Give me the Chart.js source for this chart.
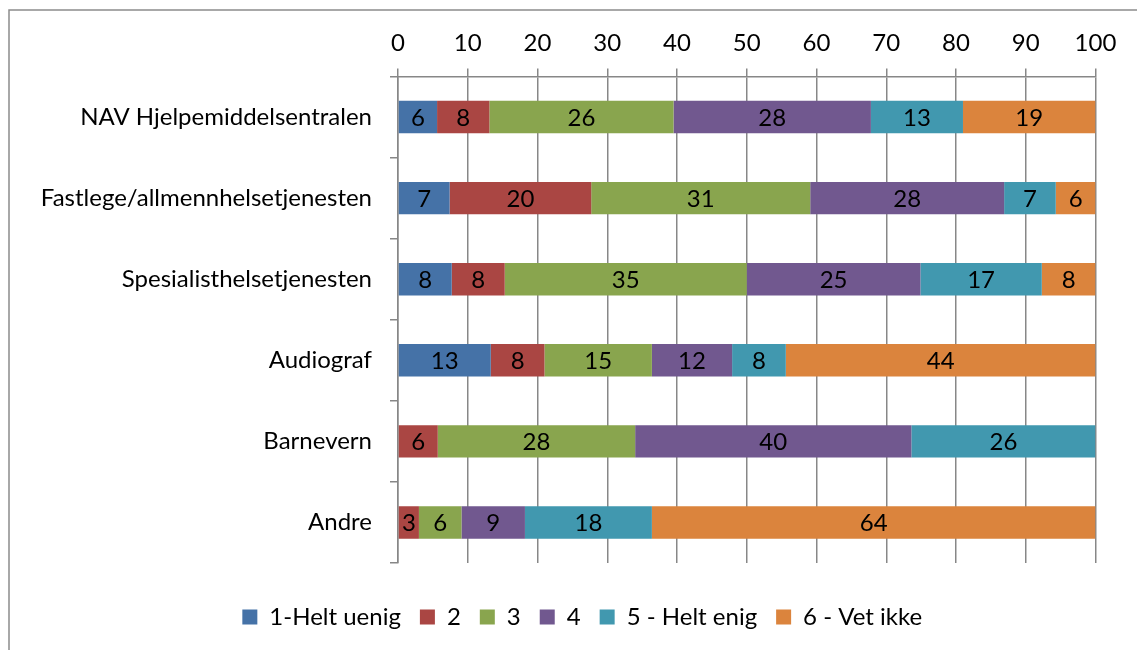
<!DOCTYPE html>
<html>
<head>
<meta charset="utf-8">
<script src="https://cdn.jsdelivr.net/npm/chart.js@4"></script>
<style>
  html, body { margin: 0; padding: 0; background: #fff; }
  #wrap { position: relative; width: 1137px; height: 650px; }
</style>
</head>
<body>
<div id="wrap"><canvas id="chart" width="1137" height="650"></canvas></div>
<script>
const categories = [
    'NAV Hjelpemiddelsentralen',
    'Fastlege/allmennhelsetjenesten',
    'Spesialisthelsetjenesten',
    'Audiograf',
    'Barnevern',
    'Andre'
];
const seriesNames = ['1-Helt uenig', '2', '3', '4', '5 - Helt enig', '6 - Vet ikke'];
const seriesColors = ['#4572A7', '#AA4643', '#89A54E', '#71588F', '#4198AF', '#DB843D'];

// percent per category
const s1 = [5.6, 7.4, 7.7, 13.3, null, null];
const s2 = [7.5, 20.3, 7.6, 7.7, 5.7, 3.0];
const s3 = [26.4, 31.4, 34.7, 15.4, 28.3, 6.1];
const s4 = [28.3, 27.8, 24.9, 11.5, 39.6, 9.1];
const s5 = [13.2, 7.4, 17.4, 7.7, 26.4, 18.2];
const s6 = [19.0, 5.7, 7.7, 44.4, null, 63.6];
const xTicks = [0, 10, 20, 30, 40, 50, 60, 70, 80, 90, 100];

const FONT = 'Lato, "Open Sans", sans-serif';
const FS = 24;
const GRID = '#878787';
const PAD_LEFT = 69;

// frame line round the chart
const framePlugin = {
    id: 'frame',
    beforeDraw(chart) {
        const c = chart.ctx;
        c.save();
        c.strokeStyle = '#8c8c8c';
        c.lineWidth = 1.5;
        c.beginPath();
        c.moveTo(9, 650);
        c.lineTo(9, 10);
        c.lineTo(1137, 10);
        c.stroke();
        c.restore();
    }
};

// category names left of the axis (drawn here so they are not clipped)
const catLabelPlugin = {
    id: 'catLabels',
    afterDraw(chart) {
        const c = chart.ctx;
        const y = chart.scales.y;
        c.save();
        c.font = FS + 'px ' + FONT;
        c.fillStyle = '#000';
        c.textAlign = 'right';
        c.textBaseline = 'middle';
        categories.forEach((name, j) => {
            c.fillText(name, y.right - 26, y.getPixelForValue(j));
        });
        c.restore();
    }
};

// value labels in the middle of each segment
const labelPlugin = {
    id: 'segLabels',
    afterDatasetsDraw(chart) {
        const c = chart.ctx;
        c.save();
        c.font = FS + 'px ' + FONT;
        c.fillStyle = '#000';
        c.textAlign = 'center';
        c.textBaseline = 'middle';
        chart.data.datasets.forEach((ds, i) => {
            chart.getDatasetMeta(i).data.forEach((bar, j) => {
                const v = ds.data[j];
                if (v == null || v === 0) return;
                const p = bar.getProps(['x', 'y', 'base'], true);
                c.fillText(Math.round(v), (p.x + p.base) / 2, p.y + 1);
            });
        });
        c.restore();
    }
};

const allSeries = [s1, s2, s3, s4, s5, s6];

new Chart(document.getElementById('chart'), {
    type: 'bar',
    data: {
        labels: categories,
        datasets: allSeries.map((d, i) => ({
            label: seriesNames[i],
            data: d,
            backgroundColor: seriesColors[i],
            borderWidth: 0,
            barPercentage: 0.4,
            categoryPercentage: 1
        }))
    },
    options: {
        indexAxis: 'y',
        responsive: false,
        animation: false,
        layout: { padding: { left: PAD_LEFT, right: 41.5, top: 0, bottom: 11 } },
        scales: {
            x: {
                position: 'top',
                stacked: true,
                min: 0,
                max: 100,
                afterBuildTicks(scale) {
                    scale.ticks = xTicks.map(v => ({ value: v }));
                },
                afterFit(scale) { scale.height = 76.5; },
                ticks: {
                    color: '#000',
                    font: { family: FONT, size: FS },
                    padding: 11,
                    maxRotation: 0
                },
                grid: { color: GRID, lineWidth: 1.5, tickLength: 8 },
                border: { color: GRID, width: 1.5 }
            },
            y: {
                stacked: true,
                afterFit(scale) { scale.width = 398 - PAD_LEFT; },
                ticks: { display: false },
                grid: { drawOnChartArea: false, color: GRID, lineWidth: 1.5, tickLength: 8 },
                border: { color: GRID, width: 1.5 }
            }
        },
        plugins: {
            legend: {
                position: 'bottom',
                title: { display: true, text: '', font: { size: 10, lineHeight: 1 }, padding: { top: 13, bottom: 0 } },
                labels: {
                    color: '#000',
                    font: { family: FONT, size: FS },
                    boxWidth: 15,
                    boxHeight: 15,
                    padding: 19
                }
            },
            tooltip: { enabled: false }
        }
    },
    plugins: [framePlugin, labelPlugin, catLabelPlugin]
});
</script>
</body>
</html>
